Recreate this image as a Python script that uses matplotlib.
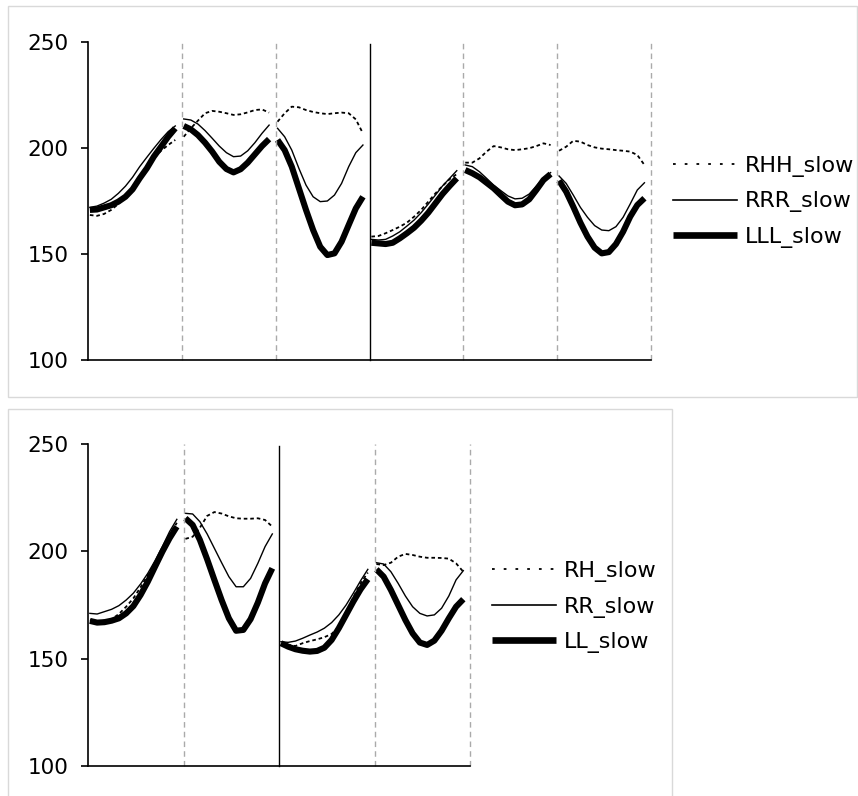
import numpy as np
import matplotlib
matplotlib.use('Agg')
import matplotlib.pyplot as plt
from matplotlib.lines import Line2D
from matplotlib.patches import Rectangle

plt.rcParams['font.family'] = 'DejaVu Sans'

# sample positions inside each segment (fraction of the segment)
pos = np.linspace(0.02, 0.93, 13)

# ---- top chart: 6 segments ----
top_labels = ['RHH_slow', 'RRR_slow', 'LLL_slow']
top_rhh = [
    [168.4, 168.0, 168.9, 170.8, 173.6, 177.0, 181.5, 186.5, 191.2, 195.1, 198.7, 201.4, 203.8],
    [205.3, 209.3, 212.9, 216.4, 217.5, 217.1, 216.4, 215.6, 215.9, 216.8, 217.9, 218.2, 216.7],
    [212.4, 216.4, 219.5, 219.2, 217.9, 217.0, 216.4, 216.0, 216.4, 216.7, 216.4, 213.5, 206.9],
    [158.2, 158.5, 159.8, 161.3, 162.9, 164.8, 167.6, 170.8, 174.7, 178.6, 182.1, 185.3, 187.7],
    [193.1, 193.1, 195.1, 198.3, 200.9, 200.3, 199.4, 199.0, 199.4, 199.9, 200.9, 202.2, 201.4],
    [198.7, 200.6, 203.4, 203.0, 201.4, 200.3, 199.7, 199.4, 199.0, 198.7, 198.3, 196.7, 192.0],
]
top_rrr = [
    [172.0, 172.6, 174.0, 175.8, 178.6, 182.0, 186.2, 191.2, 195.6, 199.9, 204.0, 207.7, 210.4],
    [213.7, 213.2, 211.3, 208.2, 204.6, 200.9, 197.8, 195.9, 196.2, 198.7, 202.5, 206.9, 210.8],
    [209.3, 205.3, 199.0, 190.4, 182.5, 177.0, 174.7, 175.0, 177.8, 183.3, 191.2, 197.8, 201.4],
    [156.9, 156.6, 156.9, 158.5, 160.5, 163.2, 166.0, 169.5, 173.6, 177.8, 182.1, 185.7, 189.3],
    [192.0, 191.2, 188.8, 185.7, 182.5, 179.9, 177.4, 176.0, 176.3, 178.3, 182.1, 185.7, 188.4],
    [186.8, 183.3, 177.8, 172.0, 167.3, 163.4, 161.3, 161.0, 162.9, 167.3, 173.6, 180.2, 183.6],
]
top_lll = [
    [170.8, 171.0, 172.0, 173.0, 174.7, 177.0, 180.5, 185.7, 190.4, 196.0, 200.6, 205.3, 209.3],
    [210.4, 208.8, 206.1, 202.5, 198.3, 193.5, 190.1, 188.5, 190.0, 193.1, 197.0, 200.9, 204.2],
    [203.8, 199.0, 191.2, 181.0, 170.8, 161.3, 153.4, 149.5, 150.3, 155.8, 163.7, 171.5, 177.0],
    [155.3, 155.0, 154.7, 155.3, 157.4, 159.8, 162.4, 165.7, 169.5, 173.9, 178.3, 182.1, 185.7],
    [189.6, 188.1, 186.2, 183.6, 181.0, 177.8, 174.7, 173.0, 173.4, 175.8, 180.2, 184.9, 187.7],
    [184.6, 179.4, 172.3, 164.8, 158.2, 153.0, 150.3, 150.9, 154.7, 160.5, 167.6, 173.1, 176.3],
]

# ---- bottom chart: 4 segments ----
bot_labels = ['RH_slow', 'RR_slow', 'LL_slow']
bot_rh = [
    [168.0, 167.4, 167.8, 168.4, 170.8, 174.2, 178.1, 183.3, 189.0, 194.7, 201.0, 207.6, 213.3],
    [205.8, 206.8, 211.0, 216.5, 218.3, 217.6, 216.3, 215.4, 215.2, 215.2, 215.4, 214.6, 211.5],
    [157.0, 156.4, 155.9, 157.2, 158.2, 159.0, 160.0, 161.5, 164.9, 171.1, 178.6, 185.1, 190.1],
    [194.1, 193.6, 194.7, 197.5, 198.8, 198.3, 197.5, 197.0, 197.0, 196.9, 196.6, 194.4, 190.5],
]
bot_rr = [
    [171.1, 170.8, 171.9, 173.0, 174.7, 177.3, 180.5, 184.8, 189.8, 195.7, 202.2, 209.2, 214.9],
    [217.7, 217.4, 213.8, 208.1, 201.4, 194.7, 188.2, 183.5, 183.5, 187.4, 194.4, 202.2, 208.1],
    [157.9, 157.6, 158.2, 159.5, 161.0, 162.4, 164.2, 166.8, 170.4, 175.0, 180.5, 186.3, 191.6],
    [194.7, 194.1, 190.5, 185.1, 179.2, 174.2, 171.1, 169.9, 170.4, 173.5, 179.2, 186.7, 191.0],
]
bot_ll = [
    [167.6, 166.8, 167.0, 167.7, 168.8, 171.1, 174.5, 179.7, 185.9, 192.9, 199.8, 206.1, 211.5],
    [215.4, 212.3, 205.3, 196.3, 186.7, 177.3, 168.8, 163.0, 163.4, 168.4, 176.1, 185.1, 192.1],
    [157.2, 155.6, 154.4, 153.7, 153.3, 153.6, 155.1, 158.7, 164.2, 170.4, 176.6, 182.3, 187.0],
    [191.6, 188.2, 182.0, 175.0, 168.0, 161.8, 157.5, 156.4, 158.4, 163.0, 168.8, 174.2, 177.7],
]

yticks = [100, 150, 200, 250]

W, H = 858, 796
fig = plt.figure(figsize=(W / 100, H / 100), dpi=100)


def px_axes(left, top, right, bottom):
    return fig.add_axes([left / W, 1 - bottom / H, (right - left) / W, (bottom - top) / H])


dotted = dict(color='black', lw=1.3, ls=(0, (2, 1.6)))
thin = dict(color='black', lw=1.0)
thick = dict(color='black', lw=4.4, solid_capstyle='butt')


def draw_panel(ax, rh, rr, ll):
    n = len(rh)
    for k in range(n):
        ax.plot(k + pos, rh[k], **dotted)
        ax.plot(k + pos, rr[k], **thin)
        ax.plot(k + pos, ll[k], **thick)
    for k in range(1, n + 1):
        if k == n // 2:
            ax.axvline(k, color='black', lw=1.0, ymax=0.995, clip_on=False)
        else:
            ax.axvline(k, color='#aaaaaa', lw=1.0, ls=(0, (4, 3)), clip_on=False)
    ax.set_xlim(0, n)
    ax.set_ylim(100, 250)
    ax.set_yticks(yticks)
    ax.set_xticks([])
    for s in ['top', 'right']:
        ax.spines[s].set_visible(False)
    for s in ['left', 'bottom']:
        ax.spines[s].set_linewidth(1.2)
    ax.tick_params(axis='y', labelsize=15.5, length=5, width=1.2, pad=9)


def add_legend(labels, x, y):
    handles = [
        Line2D([], [], color='black', lw=1.3, ls=(0, (1.5, 5))),
        Line2D([], [], color='black', lw=1.2),
        Line2D([], [], color='black', lw=4.8, solid_capstyle='butt'),
    ]
    fig.legend(handles, labels, loc='center left', bbox_to_anchor=(x / W, 1 - y / H),
               frameon=False, borderpad=0, borderaxespad=0, fontsize=16,
               handlelength=2.9, handletextpad=0.32, labelspacing=0.66)


ax1 = px_axes(88, 42, 651, 360)
draw_panel(ax1, top_rhh, top_rrr, top_lll)
add_legend(top_labels, 673, 202)

ax2 = px_axes(88, 444, 470, 766)
draw_panel(ax2, bot_rh, bot_rr, bot_ll)
add_legend(bot_labels, 492, 607)

# light frames around each chart
fig.add_artist(Rectangle((8 / W, 1 - 397 / H), (857 - 8) / W, (397 - 6) / H,
                         transform=fig.transFigure, fill=False, ec='#d9d9d9', lw=1.0))
fig.add_artist(Rectangle((8 / W, 1 - 800 / H), (672 - 8) / W, (800 - 409) / H,
                         transform=fig.transFigure, fill=False, ec='#d9d9d9', lw=1.0))

fig.savefig('out.png', dpi=100)
